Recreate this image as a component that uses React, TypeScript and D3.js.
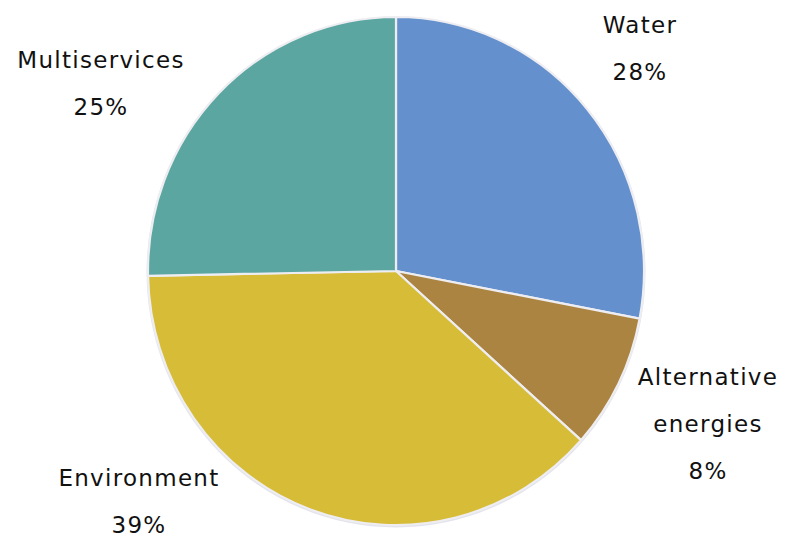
import React from "react";
import * as d3 from "d3";

const categories = ["Water", "Alternative energies", "Environment", "Multiservices"];
const values = [28.0, 8.6, 38.1, 25.3];
const pctLabels = ["28%", "8%", "39%", "25%"];
const colors = ["#6491CD", "#AC8441", "#D7BC38", "#5BA6A1"];
const labelLines = [["Water"], ["Alternative", "energies"], ["Environment"], ["Multiservices"]];
const labelPos = [
  [640, 33],
  [708, 385],
  [139, 486],
  [101, 68],
];

export default function App() {
  const W = 785, H = 538;
  const cx = 396, cy = 271, r = 254, sx = 248 / 254;
  const pie = d3.pie<number>().sort(null).value((d) => d);
  const arcs = pie(values);
  const arc = d3.arc<d3.PieArcDatum<number>>().innerRadius(0).outerRadius(r);
  return (
    <svg width={W} height={H} style={{ position: "absolute", left: 0, top: 0 }}>
      <rect width={W} height={H} fill="#fff" />
      <g transform={`translate(${cx},${cy}) scale(${sx},1)`}>
        <ellipse cx={0} cy={1} rx={r + 1.5} ry={r + 1.5} fill="#e4e4ec" />
        {arcs.map((a, i) => (
          <path key={i} d={arc(a) || ""} fill={colors[i]} stroke="#eeeef2" strokeWidth={2.2} vectorEffect="non-scaling-stroke" />
        ))}
      </g>
      {categories.map((c, i) => {
        const lines = [...labelLines[i], pctLabels[i]];
        return (
          <text key={c} x={labelPos[i][0]} y={labelPos[i][1]} textAnchor="middle" fontFamily="DejaVu Sans" fontSize={23} letterSpacing={1.3} fill="#111">
            {lines.map((l, j) => (
              <tspan key={j} x={labelPos[i][0]} dy={j === 0 ? 0 : 47}>{l}</tspan>
            ))}
          </text>
        );
      })}
    </svg>
  );
}
